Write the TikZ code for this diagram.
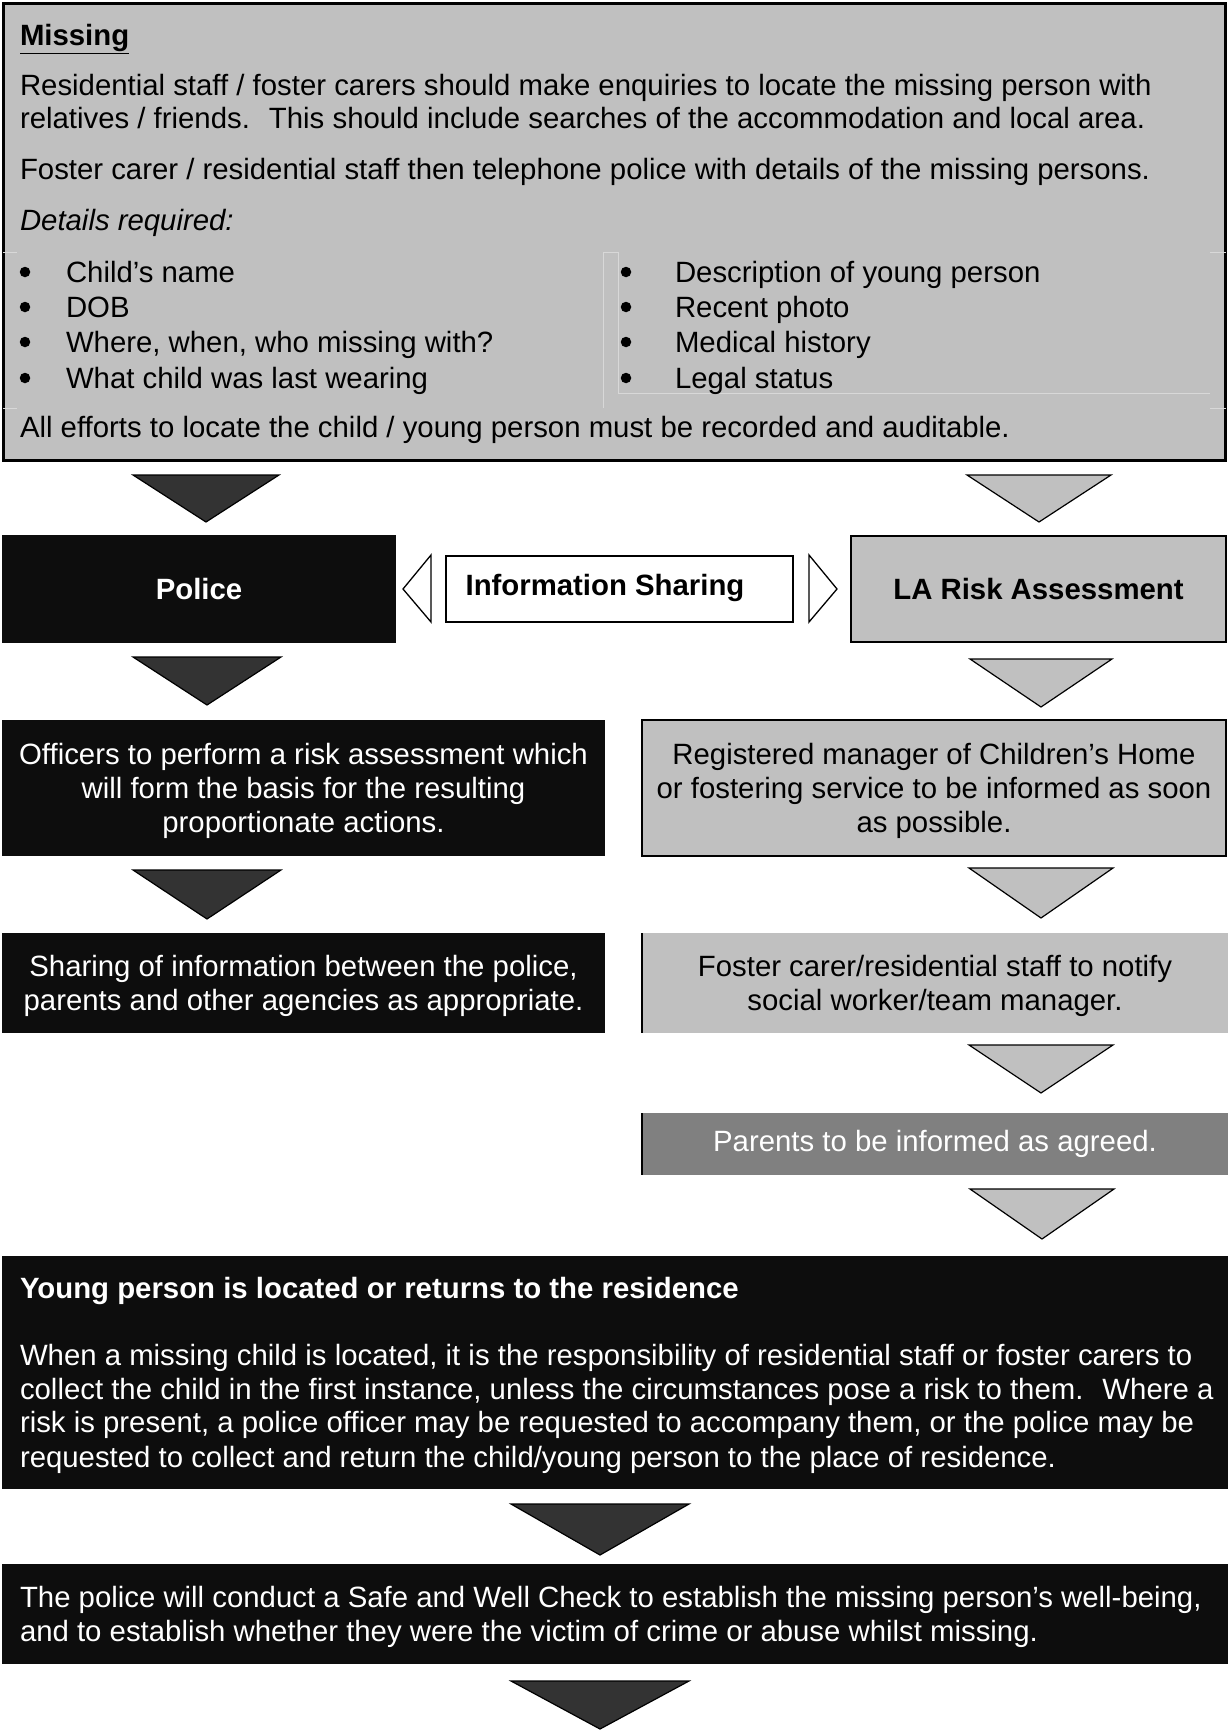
\documentclass[tikz,border=0pt]{standalone}
\usepackage{fontspec}
\setmainfont{Liberation Sans}
\definecolor{boxgrey}{HTML}{C0C0C0}
\definecolor{boxblack}{HTML}{0D0D0D}
\definecolor{arrdark}{HTML}{333333}
\definecolor{boxmid}{HTML}{808080}
\definecolor{faint}{HTML}{D8D8D8}
\newcommand\downtri[5]{\draw[#5] (#1-#3,#2) -- (#1+#3,#2) -- (#1,#2+#4) -- cycle;}
\newcommand\tup{\rule{0pt}{27pt}}
\begin{document}
\begin{tikzpicture}[x=1pt,y=-1pt,
  every node/.style={font=\fontsize{29.35}{33.8}\selectfont, inner sep=0pt, outer sep=0pt},
  greybox/.style={draw=black, line width=2.5pt, fill=boxgrey, anchor=north west},
  blackbox/.style={fill=boxblack, draw=none, anchor=north west, text=white},
  flatbox/.style={fill=boxgrey, draw=none, anchor=north west},
  whitebox/.style={draw=black, line width=2pt, fill=white, anchor=north west},
  ctext/.style={align=center},
  ltext/.style={anchor=base west},
  bulletdot/.style={circle, fill=black, minimum size=10.5pt},
  darktri/.style={draw=black, line width=1.2pt, fill=arrdark, line join=miter},
  lighttri/.style={draw=black, line width=1.2pt, fill=boxgrey, line join=miter},
  hollow/.style={draw=black, line width=1.3pt, fill=white, line join=miter},
  faintline/.style={draw=faint, line width=0.8pt}
]
\fill[white] (0,0) rectangle (1228,1731);
\useasboundingbox (0,0) rectangle (1228,1731);

% ---- top box ----
\node[greybox, minimum width=1222, minimum height=457] (missing) at (3.5,3.5) {};
\draw[faintline] (3,252) -- (17,252) (3,408) -- (17,408)
  (603,252) -- (603,408) (603,252) -- (618,252) (618,252) -- (618,393)
  (618,393) -- (1210,393) (1210,252) -- (1226,252) (1210,408) -- (1226,408);
\node[ltext] (mtitle) at (20,46) {\bfseries\underline{Missing}};
\node[ltext] (m1) at (20,96) {Residential staff / foster carers should make enquiries to locate the missing person with};
\node[ltext] (m2) at (20,129) {relatives / friends.~ This should include searches of the accommodation and local area.};
\node[ltext] (m3) at (20,179) {Foster carer / residential staff then telephone police with details of the missing persons.};
\node[ltext] (m4) at (20,230) {\itshape Details required:};
\foreach \yy/\tl/\tr [count=\i] in {282/Child’s name/Description of young person,
   317/DOB/Recent photo,
   352/{Where, when, who missing with?}/Medical history,
   388/What child was last wearing/Legal status}{
  \node[bulletdot] (bl\i) at (25,\yy-10) {};
  \node[ltext] (tl\i) at (66,\yy) {\tl};
  \node[bulletdot] (br\i) at (626,\yy-10) {};
  \node[ltext] (tr\i) at (675,\yy) {\tr};
}
\node[ltext] (m5) at (20,437) {All efforts to locate the child / young person must be recorded and auditable.};

% ---- second row ----
\node[blackbox, minimum width=394, minimum height=108] (police) at (2,535) {\bfseries Police};
\node[whitebox, minimum width=347, minimum height=66] (info) at (446,556) {};
\node (infotext) at (605,588) {\bfseries Information Sharing};
\node[greybox, minimum width=375, minimum height=106] (la) at (851,536) {\bfseries LA Risk Assessment};
\draw[hollow] (403,589) -- (431,555) -- (431,622) -- cycle;
\draw[hollow] (837,589) -- (809,555) -- (809,622) -- cycle;

% ---- third row ----
\node[blackbox, minimum width=603, minimum height=136, ctext] (officers) at (2,720)
  {\tup Officers to perform a risk assessment which\\ will form the basis for the resulting\\ proportionate actions.};
\node[greybox, minimum width=584, minimum height=136, ctext] (registered) at (642,720)
  {\tup Registered manager of Children’s Home\\ or fostering service to be informed as soon\\ as possible.};

% ---- fourth row ----
\node[blackbox, minimum width=603, minimum height=100, ctext] (sharing) at (2,933)
  {\tup Sharing of information between the police,\\ parents and other agencies as appropriate.};
\node[flatbox, minimum width=586, minimum height=100, ctext] (foster) at (642,933)
  {\tup Foster carer/residential staff to notify\\ social worker/team manager.};
\draw[line width=2pt] (foster.north west) -- (foster.south west);

% ---- parents ----
\node[blackbox, fill=boxmid, minimum width=586, minimum height=62] (parents) at (642,1113)
  {Parents to be informed as agreed.};
\draw[line width=2pt] (parents.north west) -- (parents.south west);

% ---- young person ----
\node[blackbox, minimum width=1226, minimum height=233] (young) at (2,1256) {};
\node[ltext, text=white] (y0) at (20,1298) {\bfseries Young person is located or returns to the residence};
\node[ltext, text=white] (y1) at (20,1365) {When a missing child is located, it is the responsibility of residential staff or foster carers to};
\node[ltext, text=white] (y2) at (20,1399) {collect the child in the first instance, unless the circumstances pose a risk to them.~ Where a};
\node[ltext, text=white] (y3) at (20,1432) {risk is present, a police officer may be requested to accompany them, or the police may be};
\node[ltext, text=white] (y4) at (20,1467) {requested to collect and return the child/young person to the place of residence.};

% ---- safe and well ----
\node[blackbox, minimum width=1226, minimum height=100] (check) at (2,1564) {};
\node[ltext, text=white] (c1) at (20,1607) {The police will conduct a Safe and Well Check to establish the missing person’s well-being,};
\node[ltext, text=white] (c2) at (20,1641) {and to establish whether they were the victim of crime or abuse whilst missing.};

% ---- block arrows ----
\downtri{206}{475}{73}{47}{darktri}
\downtri{207}{657}{74}{48}{darktri}
\downtri{207}{870}{74}{49}{darktri}
\downtri{1039}{475}{72}{47}{lighttri}
\downtri{1041}{659}{71}{48}{lighttri}
\downtri{1041}{868}{72}{50}{lighttri}
\downtri{1041}{1045}{72}{48}{lighttri}
\downtri{1042}{1189}{72}{50}{lighttri}
\downtri{600}{1504}{89}{51}{darktri}
\downtri{600}{1681}{89}{48}{darktri}
\end{tikzpicture}
\end{document}
